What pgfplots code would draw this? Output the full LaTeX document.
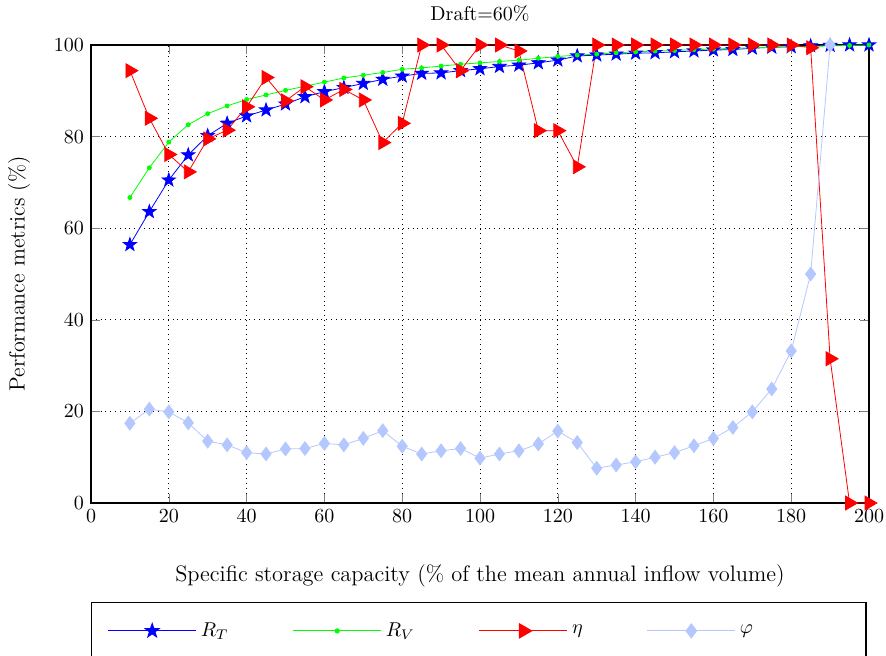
\documentclass[border=0pt]{standalone}
\usepackage{pgfplots}
\pgfplotsset{compat=1.18}
\definecolor{phicol}{RGB}{180,200,255}
\pgfdeclareplotmark{fstar}{%
  \pgfpathmoveto{\pgfpointpolar{90}{\pgfplotmarksize}}%
  \pgfpathlineto{\pgfpointpolar{126}{0.4\pgfplotmarksize}}%
  \pgfpathlineto{\pgfpointpolar{162}{\pgfplotmarksize}}%
  \pgfpathlineto{\pgfpointpolar{198}{0.4\pgfplotmarksize}}%
  \pgfpathlineto{\pgfpointpolar{234}{\pgfplotmarksize}}%
  \pgfpathlineto{\pgfpointpolar{270}{0.4\pgfplotmarksize}}%
  \pgfpathlineto{\pgfpointpolar{306}{\pgfplotmarksize}}%
  \pgfpathlineto{\pgfpointpolar{342}{0.4\pgfplotmarksize}}%
  \pgfpathlineto{\pgfpointpolar{18}{\pgfplotmarksize}}%
  \pgfpathlineto{\pgfpointpolar{54}{0.4\pgfplotmarksize}}%
  \pgfpathclose
  \pgfusepathqfillstroke}
\begin{document}
\begin{tikzpicture}
\begin{axis}[
  width=389pt, height=229pt, scale only axis,
  xmin=0, xmax=200, ymin=0, ymax=100,
  xtick={0,20,...,200}, ytick={0,20,...,100},
  tick align=inside, ticks=major,
  xmajorgrids, ymajorgrids,
  major grid style={dotted, black, thin},
  axis line style={semithick},
  clip=false,
  title={Draft=60\%},
  title style={yshift=2pt},
  xlabel={Specific storage capacity (\% of the mean annual inflow volume)},
  ylabel={Performance metrics (\%)},
  xlabel style={yshift=-14pt, font=\fontsize{11.2}{13}\selectfont},
  ylabel style={yshift=5pt, font=\fontsize{11}{13}\selectfont},
  legend columns=4,
  legend style={at={(0,-0.216)}, anchor=north west, draw=black, semithick,
    /tikz/every even column/.append style={column sep=30pt},
    inner xsep=8pt, inner ysep=8pt, font=\normalsize},
  legend image code/.code={%
    \draw[mark repeat=2,mark phase=2] plot coordinates {(0pt,0pt) (22pt,0pt) (44pt,0pt)};},
]
\addplot[blue, mark=fstar, mark size=3.5pt, mark options={fill=blue, solid}] table {
10 56.4
15 63.6
20 70.5
25 76.0
30 80.2
35 82.9
40 84.5
45 85.8
50 87.1
55 88.7
60 89.8
65 90.7
70 91.6
75 92.5
80 93.2
85 93.8
90 93.9
95 94.4
100 94.8
105 95.3
110 95.6
115 96.1
120 96.7
125 97.6
130 97.8
135 98.0
140 98.2
145 98.3
150 98.5
155 98.7
160 98.9
165 99.0
170 99.3
175 99.5
180 99.6
185 99.8
190 99.9
195 100
200 100
};
\addlegendentry{$R_T$}
\addplot[green, mark=*, mark size=1pt] table {
10 66.7
15 73.2
20 78.8
25 82.6
30 85.0
35 86.7
40 88.1
45 89.1
50 90.1
55 91.0
60 91.9
65 92.8
70 93.4
75 94.0
80 94.7
85 95.0
90 95.4
95 95.8
100 96.1
105 96.4
110 96.7
115 97.1
120 97.5
125 97.8
130 98.0
135 98.3
140 98.5
145 98.7
150 98.8
155 99.0
160 99.1
165 99.3
170 99.4
175 99.5
180 99.6
185 99.7
190 99.8
195 99.9
200 100
};
\addlegendentry{$R_V$}
\addplot[red, mark=triangle*, mark size=4pt, mark options={rotate=-90, fill=red, solid}] table {
10 94.4
15 84.0
20 76.1
25 72.3
30 79.5
35 81.4
40 86.5
45 92.9
50 87.8
55 90.9
60 88.0
65 90.3
70 88.0
75 78.7
80 82.9
85 100
90 100
95 94.4
100 100
105 100
110 98.7
115 81.3
120 81.3
125 73.4
130 100
135 100
140 100
145 100
150 100
155 100
160 100
165 100
170 100
175 100
180 100
185 99.4
190 31.5
195 0
200 0
};
\addlegendentry{$\eta$}
\addplot[phicol, mark=diamond*, mark size=3.4pt, mark options={fill=phicol, solid}] table {
10 17.4
15 20.5
20 19.9
25 17.5
30 13.5
35 12.7
40 11.0
45 10.7
50 11.8
55 11.9
60 13.0
65 12.7
70 14.1
75 15.8
80 12.4
85 10.7
90 11.4
95 11.9
100 9.8
105 10.7
110 11.4
115 12.9
120 15.7
125 13.2
130 7.6
135 8.3
140 9.0
145 10.0
150 11.0
155 12.5
160 14.1
165 16.5
170 19.9
175 24.9
180 33.2
185 50.0
190 100
};
\addlegendentry{\makebox[53pt][l]{$\varphi$}}
\end{axis}
\pgfresetboundingbox
\path (-45.5pt,-76pt) rectangle (397.5pt,251.5pt);
\end{tikzpicture}
\end{document}
